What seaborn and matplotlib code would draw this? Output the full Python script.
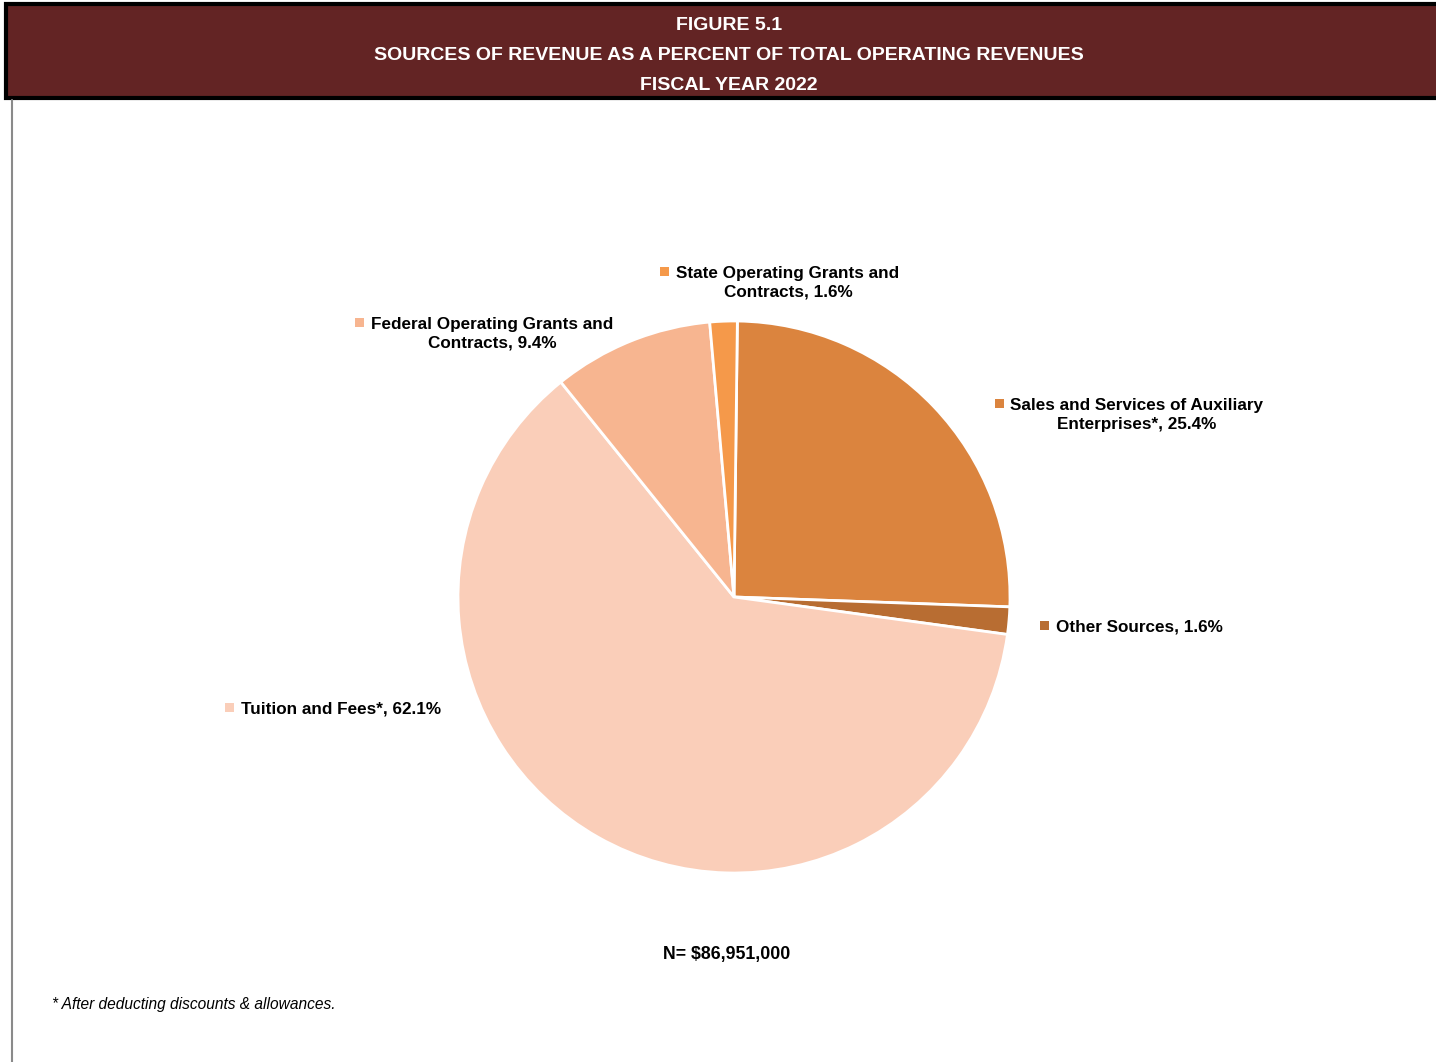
import matplotlib
matplotlib.use("Agg")
import seaborn as sns
from matplotlib import pyplot as plt
from matplotlib.patches import Rectangle

sns.set_style("white")
plt.rcParams["font.family"] = ["Liberation Sans", "DejaVu Sans"]
plt.rcParams["text.color"] = "black"

# slices, clockwise from 12 o'clock
categories = ["Sales and Services of Auxiliary\nEnterprises*", "Other Sources",
              "Tuition and Fees*", "Federal Operating Grants and\nContracts",
              "State Operating Grants and\nContracts"]
shares = [25.4, 1.6, 62.1, 9.4, 1.6]
colors = ["#DB843E", "#B86D32", "#FACEB9", "#F7B590", "#F5994A"]
# label anchor (px, centre of text block) for each slice
label_px = [(1137, 415), (1139, 627), (341, 709), (492, 334), (788, 283)]

W, H = 1436, 1062
fig = plt.figure(figsize=(W / 100, H / 100), dpi=100)


def fx(x):
    return x / W


def fy(y):
    return 1 - y / H


# header banner
fig.patches.append(Rectangle((fx(6), fy(98)), fx(1440), 94 / H, transform=fig.transFigure,
                             facecolor="#632424", edgecolor="black", lw=3, zorder=0))
fig.lines.append(plt.Line2D([fx(12), fx(12)], [fy(100), 0], transform=fig.transFigure,
                            color="#8a8a8a", lw=1.5))
for txt, y in [("FIGURE 5.1", 25), ("SOURCES OF REVENUE AS A PERCENT OF TOTAL OPERATING REVENUES", 55),
               ("FISCAL YEAR 2022", 85)]:
    fig.text(fx(729), fy(y), txt, ha="center", va="center", color="white",
             fontsize=14, fontweight="bold")

# pie
cx, cy, r = 734, 597, 276
ax = fig.add_axes([fx(cx - r * 1.1), fy(cy + r * 1.1), 2.2 * r / W, 2.2 * r / H])
ax.pie(shares, colors=colors, startangle=89.3, counterclock=False, radius=1,
       wedgeprops=dict(edgecolor="white", linewidth=2))
ax.set_xlim(-1.1, 1.1)
ax.set_ylim(-1.1, 1.1)
ax.set_aspect("equal")
ax.axis("off")

# labels with colour squares
for cat, val, col, (lx, ly) in zip(categories, shares, colors, label_px):
    t = fig.text(fx(lx), fy(ly), f"{cat}, {val}%", ha="center", va="center",
                 multialignment="center", fontsize=12.3, fontweight="bold", linespacing=1.32)
    fig.canvas.draw()
    bb = t.get_window_extent()
    top_line_y = bb.y1 - 6
    fig.patches.append(Rectangle(((bb.x0 - 16) / W, (top_line_y - 4) / H), 9 / W, 9 / H,
                                 transform=fig.transFigure, facecolor=col, edgecolor="none"))

fig.text(fx(727), fy(955), "N= $86,951,000", ha="center", va="center",
         fontsize=12.8, fontweight="bold")
fig.text(fx(52), fy(1005), "* After deducting discounts & allowances.", ha="left", va="center",
         fontsize=11.2, style="italic")

fig.savefig("out.png", dpi=100, facecolor="white")
